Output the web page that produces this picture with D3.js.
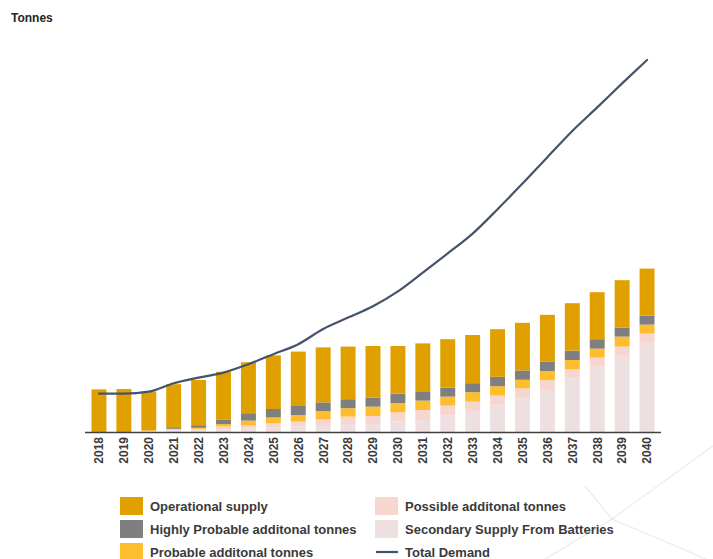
<!DOCTYPE html>
<html>
<head>
<meta charset="utf-8">
<script src="https://cdn.jsdelivr.net/npm/d3@7"></script>
<style>
  html, body { margin: 0; padding: 0; background: #fff; }
  svg { display: block; font-family: "Liberation Sans", Arial, sans-serif; }
</style>
</head>
<body>
<svg id="chart" width="713" height="559"></svg>
<script>
// Supply and demand, thousand tonnes
const years = ["2018","2019","2020","2021","2022","2023","2024","2025","2026","2027","2028",
  "2029","2030","2031","2032","2033","2034","2035","2036","2037","2038","2039","2040"];

const secondarySupply = [0, 0, 5, 8, 8, 15, 18, 22, 28, 30, 40, 40, 53, 60, 82, 105, 137, 168, 210, 268, 327, 385, 447];
const possibleTonnes  = [0, 0, 2, 5, 8, 13, 14, 21, 24, 33, 37, 40, 45, 50, 50, 47, 45, 50, 49, 45, 45, 42, 45];
const probableTonnes  = [0, 0, 0, 3, 5, 12, 25, 30, 33, 42, 42, 47, 47, 47, 45, 47, 47, 43, 46, 47, 45, 50, 45];
const highlyProbable  = [0, 0, 0, 8, 13, 23, 37, 42, 45, 43, 45, 45, 47, 43, 45, 45, 47, 47, 46, 47, 47, 45, 45];
const operational     = [213, 215, 195, 215, 226, 238, 255, 268, 272, 275, 263, 258, 238, 243, 242, 241, 238, 238, 235, 237, 235, 237, 235];
const totalDemand     = [192, 192, 202, 244, 272, 297, 339, 389, 439, 515, 572, 629, 703, 797, 893, 992, 1114, 1242, 1374, 1505, 1623, 1743, 1860];

// stacking order, bottom to top
const seriesKeys = ["secondary", "possible", "probable", "highly", "operational"];
const seriesColors = {
  secondary: "#EEE0E1",
  possible: "#F6D6CE",
  probable: "#FDBD2C",
  highly: "#7F7F7F",
  operational: "#E0A000"
};

const rows = years.map((y, i) => ({
  year: y,
  secondary: secondarySupply[i],
  possible: possibleTonnes[i],
  probable: probableTonnes[i],
  highly: highlyProbable[i],
  operational: operational[i]
}));

const svg = d3.select("#chart");

// faint background burst
const burst = svg.append("g").attr("stroke", "#EFEAEC").attr("stroke-width", 1.2).attr("fill", "none");
[[612, 519, 713, 446], [612, 519, 713, 562], [612, 519, 540, 562], [612, 519, 585, 486]].forEach(d => {
  burst.append("line").attr("x1", d[0]).attr("y1", d[1]).attr("x2", d[2]).attr("y2", d[3]);
});

const x = d3.scaleBand().domain(years).range([86.5, 659.5]).paddingInner(0.4).paddingOuter(0.2);
const y = d3.scaleLinear().domain([0, 2000]).range([432, 32]);

const stack = d3.stack().keys(seriesKeys)(rows);

svg.append("g").selectAll("g")
  .data(stack)
  .join("g")
  .attr("fill", d => seriesColors[d.key])
  .selectAll("rect")
  .data(d => d)
  .join("rect")
  .attr("x", d => x(d.data.year))
  .attr("width", x.bandwidth())
  .attr("y", d => y(d[1]))
  .attr("height", d => y(d[0]) - y(d[1]));

// x axis
const xAxis = d3.axisBottom(x).tickSize(0).tickPadding(0);
const gx = svg.append("g").attr("transform", "translate(0,432)").call(xAxis);
gx.select(".domain").remove();
gx.selectAll("text")
  .attr("transform", "rotate(-90)")
  .attr("x", -5)
  .attr("y", 0)
  .attr("dy", "0.36em")
  .attr("text-anchor", "end")
  .attr("font-size", 12)
  .attr("font-weight", "bold")
  .attr("font-family", "Liberation Sans, Arial, sans-serif")
  .attr("fill", "#3a3a3a");
svg.append("line")
  .attr("x1", 85).attr("x2", 661)
  .attr("y1", 432.5).attr("y2", 432.5)
  .attr("stroke", "#404040").attr("stroke-width", 1.5);

// total demand line
const line = d3.line()
  .x((d, i) => x(years[i]) + x.bandwidth() / 2)
  .y(d => y(d))
  .curve(d3.curveMonotoneX);
svg.append("path")
  .datum(totalDemand)
  .attr("d", line)
  .attr("fill", "none")
  .attr("stroke", "#44546A")
  .attr("stroke-width", 2.2)
  .attr("stroke-linecap", "round");

// unit label
svg.append("text")
  .attr("x", 11).attr("y", 22)
  .attr("font-size", 12).attr("font-weight", "bold")
  .attr("fill", "#262626")
  .text("Tonnes");

// legend
const legendItems = [
  { label: "Operational supply", key: "operational", col: 0, row: 0 },
  { label: "Highly Probable additonal tonnes", key: "highly", col: 0, row: 1 },
  { label: "Probable additonal tonnes", key: "probable", col: 0, row: 2 },
  { label: "Possible additonal tonnes", key: "possible", col: 1, row: 0 },
  { label: "Secondary Supply From Batteries", key: "secondary", col: 1, row: 1 },
  { label: "Total Demand", key: "demand", col: 1, row: 2 }
];
const colX = [120, 375];
const rowY = [497, 520, 543];
const lg = svg.append("g");
legendItems.forEach(it => {
  const gx0 = colX[it.col], gy0 = rowY[it.row];
  if (it.key === "demand") {
    lg.append("line")
      .attr("x1", gx0 + 1).attr("x2", gx0 + 23)
      .attr("y1", gy0 + 9).attr("y2", gy0 + 9)
      .attr("stroke", "#44546A").attr("stroke-width", 2.2);
  } else {
    lg.append("rect")
      .attr("x", gx0).attr("y", gy0)
      .attr("width", 23).attr("height", 18)
      .attr("fill", seriesColors[it.key]);
  }
  lg.append("text")
    .attr("x", gx0 + 30).attr("y", gy0 + 13.5)
    .attr("font-size", 13)
    .attr("font-weight", "bold")
    .attr("fill", "#3a3a3a")
    .text(it.label);
});
</script>
</body>
</html>
